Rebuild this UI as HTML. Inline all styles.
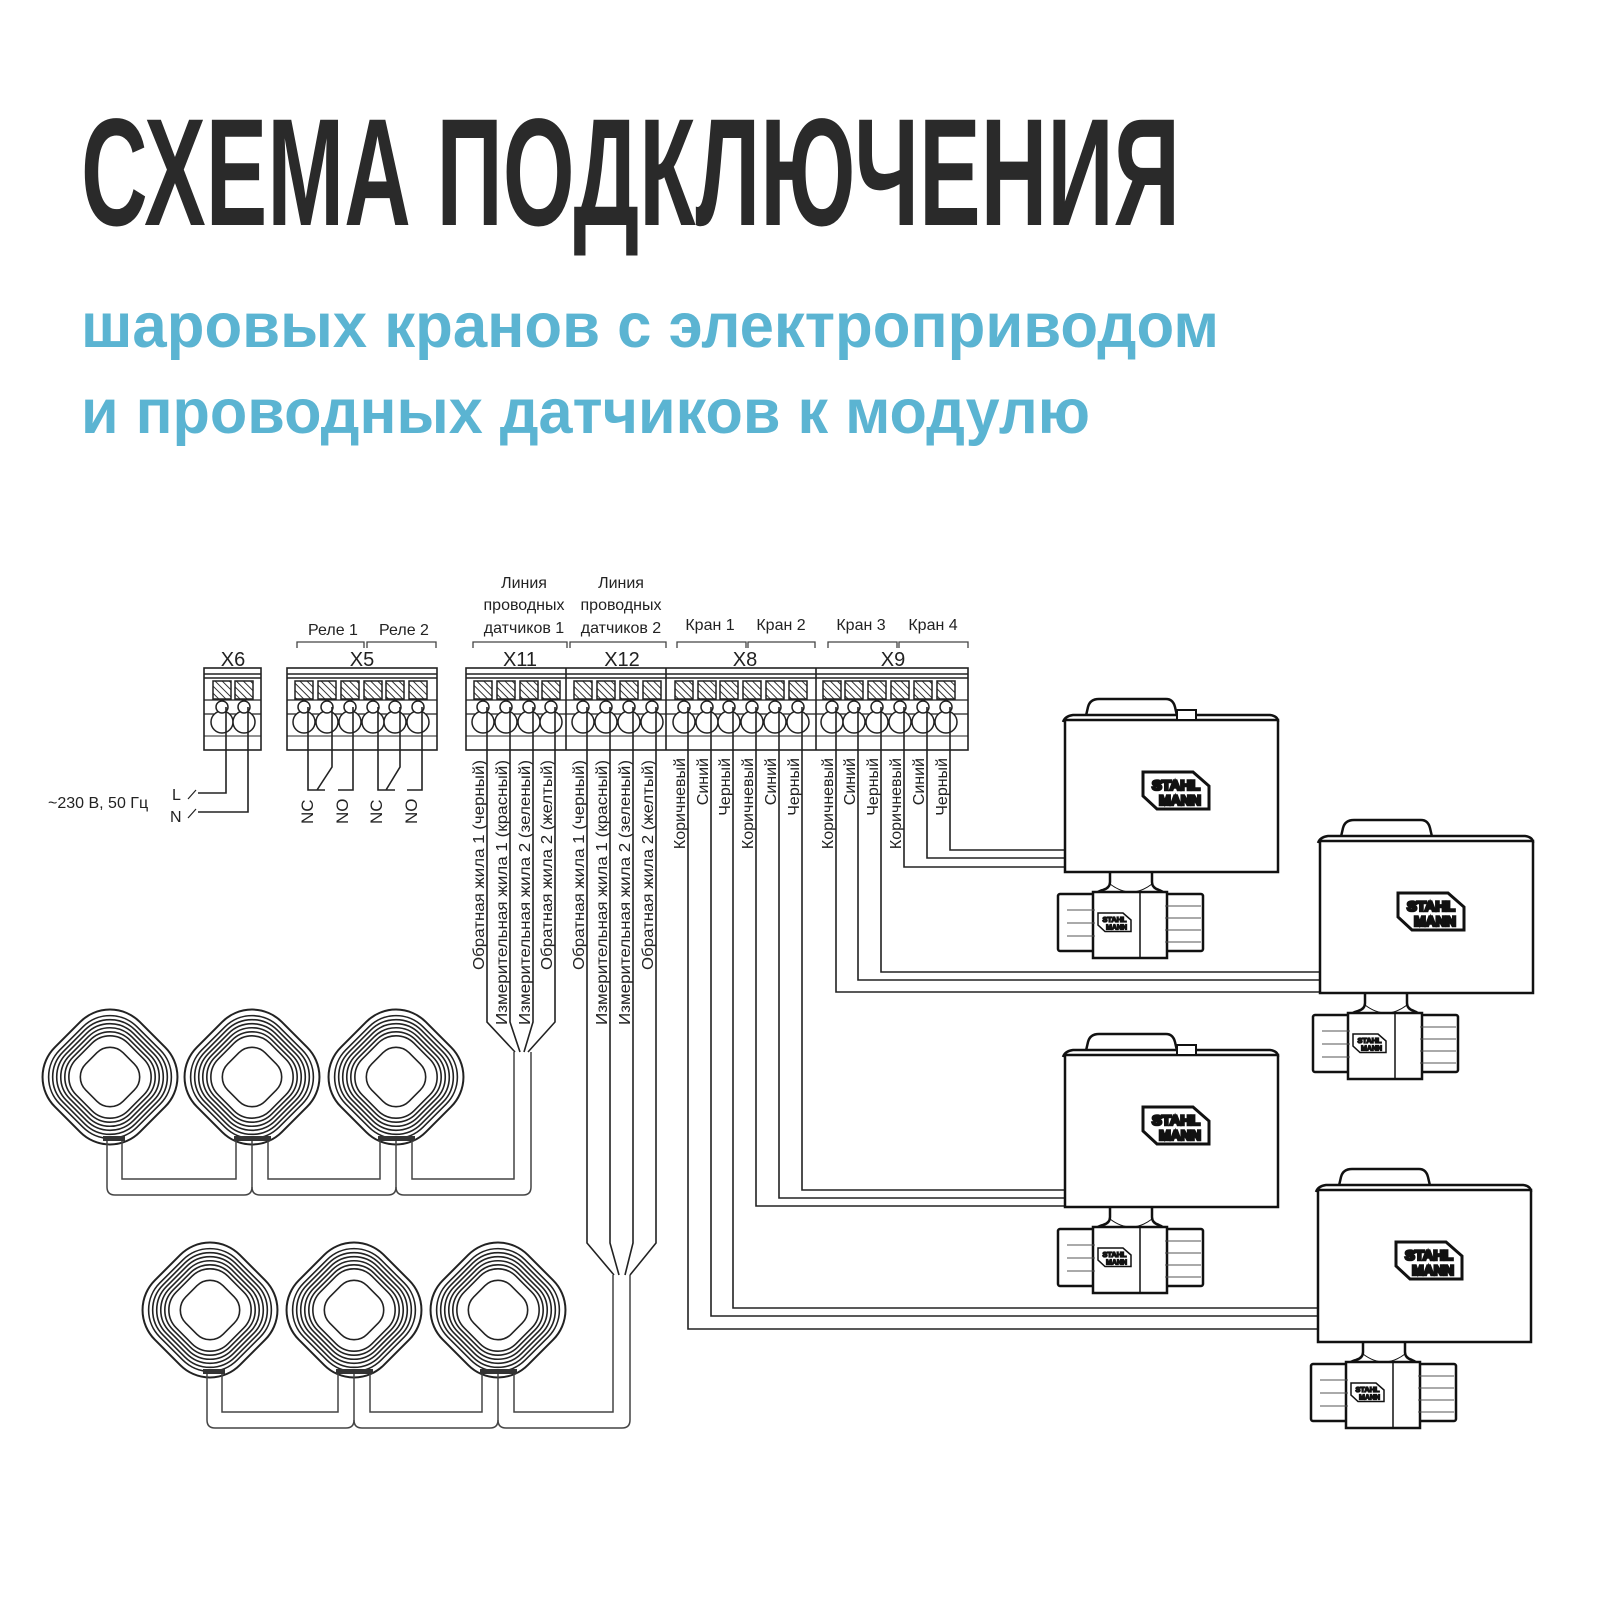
<!DOCTYPE html>
<html><head><meta charset="utf-8"><style>
html,body{margin:0;padding:0;background:#fff;}
svg{display:block;}
text{font-family:"Liberation Sans",sans-serif;}
</style></head><body>
<svg width="1600" height="1600" viewBox="0 0 1600 1600" xmlns="http://www.w3.org/2000/svg">
<defs>
<pattern id="hatch" patternUnits="userSpaceOnUse" width="5" height="5" patternTransform="rotate(-45)">
<rect width="5" height="5" fill="#fff"/><line x1="0" y1="0" x2="0" y2="5" stroke="#333" stroke-width="2"/>
</pattern>
<rect id="sq" x="-60" y="-60" width="120" height="120" rx="42" vector-effect="non-scaling-stroke"/>
<g id="sensor" fill="none" stroke="#222" stroke-width="1.6">
<g transform="rotate(45)">
<use href="#sq" fill="#fff" stroke-width="2"/>
<use href="#sq" transform="scale(0.91)"/>
<use href="#sq" transform="scale(0.85)"/>
<use href="#sq" transform="scale(0.79)"/>
<use href="#sq" transform="scale(0.73)"/>
<use href="#sq" transform="scale(0.67)"/>
<use href="#sq" transform="scale(0.61)"/>
<use href="#sq" transform="scale(0.44)"/>
</g>
</g>
<g id="logo">
<path d="M0,0 H50 L66,14 V37 H14 L0,24 Z" fill="#fff" stroke="#111" stroke-width="3"/>
<text x="33" y="18" font-size="14" font-weight="bold" text-anchor="middle" fill="#111" textLength="48" lengthAdjust="spacingAndGlyphs">STAHL</text>
<text x="37" y="33" font-size="14" font-weight="bold" text-anchor="middle" fill="#111" textLength="42" lengthAdjust="spacingAndGlyphs">MANN</text>
</g>
<g id="valve" fill="#fff" stroke="#111" stroke-width="2.5">
<path d="M20,0 L23,-13 Q25,-21 34,-21 L101,-21 Q108,-21 110,-13 L113,0 Z"/>
<path d="M-2,2 Q0,-4 8,-5 H205 Q213,-4 213,2"/>
<rect x="0" y="0" width="213" height="152"/>
<path d="M45,152 V162 Q45,168 38,170 Q30,172 28,178 M87,152 V162 Q87,168 94,170 Q100,172 102,178"/>
<rect x="-7" y="174" width="40" height="57" rx="2"/>
<rect x="98" y="174" width="40" height="57" rx="2"/>
<path d="M28,172 H102 V238 H28 Z"/>
<line x1="75" y1="172" x2="75" y2="238" stroke-width="1.5"/>
<path d="M2,190 H30 M2,203 H30 M2,216 H30 M100,186 H136 M100,198 H136 M100,210 H136 M100,222 H136" stroke-width="1" stroke="#555"/>
<path d="M45,164 Q66,180 87,164" fill="none" stroke-width="1"/>
<use href="#logo" transform="translate(33,193) scale(0.5)"/>
<use href="#logo" transform="translate(78,52)"/>
</g>
</defs>

<text x="81" y="225" font-size="153" font-weight="bold" fill="#2a2a2a" textLength="1099" lengthAdjust="spacingAndGlyphs">СХЕМА ПОДКЛЮЧЕНИЯ</text>
<text x="81" y="347" font-size="63" font-weight="bold" fill="#5bb4d2" textLength="1138" lengthAdjust="spacingAndGlyphs">шаровых кранов с электроприводом</text>
<text x="81" y="433" font-size="63" font-weight="bold" fill="#5bb4d2" textLength="1009" lengthAdjust="spacingAndGlyphs">и проводных датчиков к модулю</text>

<g font-size="16" fill="#222" text-anchor="middle">
<text x="333" y="635">Реле 1</text><text x="404" y="635">Реле 2</text>
<text x="524" y="588">Линия</text><text x="524" y="610">проводных</text><text x="524" y="633">датчиков 1</text>
<text x="621" y="588">Линия</text><text x="621" y="610">проводных</text><text x="621" y="633">датчиков 2</text>
<text x="710" y="630">Кран 1</text><text x="781" y="630">Кран 2</text>
<text x="861" y="630">Кран 3</text><text x="933" y="630">Кран 4</text>
<text x="233" y="666" font-size="20">X6</text>
<text x="362" y="666" font-size="20">X5</text>
<text x="520" y="666" font-size="20">X11</text>
<text x="622" y="666" font-size="20">X12</text>
<text x="745" y="666" font-size="20">X8</text>
<text x="893" y="666" font-size="20">X9</text>
</g>
<g fill="none" stroke="#444" stroke-width="1.3">
<path d="M297,648 V642 H364 V648 M367,648 V642 H436 V648"/>
<path d="M473,648 V642 H567 V648 M570,648 V642 H666 V648"/>
<path d="M677,648 V642 H746 V648 M748,648 V642 H815 V648"/>
<path d="M828,648 V642 H897 V648 M899,648 V642 H968 V648"/>
</g>

<g stroke="#222" stroke-width="1.6" fill="#fff">
<rect x="204" y="668" width="57" height="82"/>
<rect x="287" y="668" width="150" height="82"/>
<rect x="466" y="668" width="502" height="82"/>
<line x1="566" y1="668" x2="566" y2="750"/><line x1="666" y1="668" x2="666" y2="750"/><line x1="816" y1="668" x2="816" y2="750"/>
<path d="M204,674 H261 M287,674 H437 M466,674 H968 M204,678 H261 M287,678 H437 M466,678 H968" fill="none"/>
<path d="M204,700 H261 M287,700 H437 M466,700 H968 M204,714 H261 M287,714 H437 M466,714 H968" fill="none" stroke-width="1.2"/>
<path d="M204,736 H261 M287,736 H437 M466,736 H968" fill="none" stroke-width="1"/>
</g>
<g stroke="#222" stroke-width="1.5">
<g fill="url(#hatch)">
<rect x="213" y="681" width="18" height="18"/><rect x="235" y="681" width="18" height="18"/>
<rect x="295" y="681" width="18" height="18"/><rect x="318" y="681" width="18" height="18"/><rect x="341" y="681" width="18" height="18"/><rect x="364" y="681" width="18" height="18"/><rect x="386" y="681" width="18" height="18"/><rect x="409" y="681" width="18" height="18"/>
<rect x="474" y="681" width="18" height="18"/><rect x="497" y="681" width="18" height="18"/><rect x="520" y="681" width="18" height="18"/><rect x="542" y="681" width="18" height="18"/>
<rect x="574" y="681" width="18" height="18"/><rect x="597" y="681" width="18" height="18"/><rect x="620" y="681" width="18" height="18"/><rect x="643" y="681" width="18" height="18"/>
<rect x="675" y="681" width="18" height="18"/><rect x="698" y="681" width="18" height="18"/><rect x="720" y="681" width="18" height="18"/><rect x="743" y="681" width="18" height="18"/><rect x="766" y="681" width="18" height="18"/><rect x="789" y="681" width="18" height="18"/>
<rect x="823" y="681" width="18" height="18"/><rect x="845" y="681" width="18" height="18"/><rect x="868" y="681" width="18" height="18"/><rect x="891" y="681" width="18" height="18"/><rect x="914" y="681" width="18" height="18"/><rect x="937" y="681" width="18" height="18"/>
</g>
<g fill="#fff">
<circle cx="222" cy="722" r="11"/><circle cx="244" cy="722" r="11"/>
<circle cx="222" cy="707" r="6"/><circle cx="244" cy="707" r="6"/>
<circle cx="304" cy="722" r="11"/><circle cx="327" cy="722" r="11"/><circle cx="350" cy="722" r="11"/><circle cx="373" cy="722" r="11"/><circle cx="395" cy="722" r="11"/><circle cx="418" cy="722" r="11"/>
<circle cx="304" cy="707" r="6"/><circle cx="327" cy="707" r="6"/><circle cx="350" cy="707" r="6"/><circle cx="373" cy="707" r="6"/><circle cx="395" cy="707" r="6"/><circle cx="418" cy="707" r="6"/>
<circle cx="483" cy="722" r="11"/><circle cx="506" cy="722" r="11"/><circle cx="529" cy="722" r="11"/><circle cx="551" cy="722" r="11"/>
<circle cx="483" cy="707" r="6"/><circle cx="506" cy="707" r="6"/><circle cx="529" cy="707" r="6"/><circle cx="551" cy="707" r="6"/>
<circle cx="583" cy="722" r="11"/><circle cx="606" cy="722" r="11"/><circle cx="629" cy="722" r="11"/><circle cx="652" cy="722" r="11"/>
<circle cx="583" cy="707" r="6"/><circle cx="606" cy="707" r="6"/><circle cx="629" cy="707" r="6"/><circle cx="652" cy="707" r="6"/>
<circle cx="684" cy="722" r="11"/><circle cx="707" cy="722" r="11"/><circle cx="729" cy="722" r="11"/><circle cx="752" cy="722" r="11"/><circle cx="775" cy="722" r="11"/><circle cx="798" cy="722" r="11"/>
<circle cx="684" cy="707" r="6"/><circle cx="707" cy="707" r="6"/><circle cx="729" cy="707" r="6"/><circle cx="752" cy="707" r="6"/><circle cx="775" cy="707" r="6"/><circle cx="798" cy="707" r="6"/>
<circle cx="832" cy="722" r="11"/><circle cx="854" cy="722" r="11"/><circle cx="877" cy="722" r="11"/><circle cx="900" cy="722" r="11"/><circle cx="923" cy="722" r="11"/><circle cx="946" cy="722" r="11"/>
<circle cx="832" cy="707" r="6"/><circle cx="854" cy="707" r="6"/><circle cx="877" cy="707" r="6"/><circle cx="900" cy="707" r="6"/><circle cx="923" cy="707" r="6"/><circle cx="946" cy="707" r="6"/>
</g>
</g>

<g fill="none" stroke="#222" stroke-width="1.6">
<path d="M226,707 V793 H198 M248,707 V812 H198"/>
<path d="M188,799 L196,790 M188,818 L196,809" stroke-width="1.2"/>
<path d="M308,707 V790 H325 M332,707 V767 L317,790 M353,707 V790 H338"/>
<path d="M378,707 V790 H395 M400,707 V767 L386,790 M422,707 V790 H407"/>
<path d="M487,707 V1022 L515,1052 M510,707 V1022 L520,1052 M533,707 V1022 L524,1052 M555,707 V1022 L528,1052"/>
<path d="M587,707 V1243 L614,1275 M610,707 V1243 L619,1275 M633,707 V1243 L625,1275 M656,707 V1243 L630,1275"/>
<path d="M950,707 V850 H1065 M927,707 V858 H1065 M904,707 V867 H1065"/>
<path d="M881,707 V972 H1320 M858,707 V980 H1320 M836,707 V992 H1320"/>
<path d="M802,707 V1190 H1065 M779,707 V1198 H1065 M756,707 V1206 H1065"/>
<path d="M733,707 V1308 H1318 M711,707 V1316 H1318 M688,707 V1329 H1318"/>
</g>

<g font-size="16" fill="#222">
<text x="48" y="808">~230 В, 50 Гц</text>
<text x="172" y="800">L</text>
<text x="170" y="822">N</text>
</g>
<g font-size="17" fill="#222">
<text transform="translate(313,824) rotate(-90)">NC</text>
<text transform="translate(348,824) rotate(-90)">NO</text>
<text transform="translate(382,824) rotate(-90)">NC</text>
<text transform="translate(417,824) rotate(-90)">NO</text>
</g>
<g font-size="16" fill="#222" text-anchor="end">
<text transform="translate(484,760) rotate(-90)" textLength="210" lengthAdjust="spacingAndGlyphs">Обратная жила 1 (черный)</text>
<text transform="translate(507,760) rotate(-90)" textLength="265" lengthAdjust="spacingAndGlyphs">Измерительная жила 1 (красный)</text>
<text transform="translate(530,760) rotate(-90)" textLength="265" lengthAdjust="spacingAndGlyphs">Измерительная жила 2 (зеленый)</text>
<text transform="translate(552,760) rotate(-90)" textLength="210" lengthAdjust="spacingAndGlyphs">Обратная жила 2 (желтый)</text>
<text transform="translate(584,760) rotate(-90)" textLength="210" lengthAdjust="spacingAndGlyphs">Обратная жила 1 (черный)</text>
<text transform="translate(607,760) rotate(-90)" textLength="265" lengthAdjust="spacingAndGlyphs">Измерительная жила 1 (красный)</text>
<text transform="translate(630,760) rotate(-90)" textLength="265" lengthAdjust="spacingAndGlyphs">Измерительная жила 2 (зеленый)</text>
<text transform="translate(653,760) rotate(-90)" textLength="210" lengthAdjust="spacingAndGlyphs">Обратная жила 2 (желтый)</text>
<text transform="translate(685,758) rotate(-90)">Коричневый</text>
<text transform="translate(708,758) rotate(-90)">Синий</text>
<text transform="translate(730,758) rotate(-90)">Черный</text>
<text transform="translate(753,758) rotate(-90)">Коричневый</text>
<text transform="translate(776,758) rotate(-90)">Синий</text>
<text transform="translate(799,758) rotate(-90)">Черный</text>
<text transform="translate(833,758) rotate(-90)">Коричневый</text>
<text transform="translate(855,758) rotate(-90)">Синий</text>
<text transform="translate(878,758) rotate(-90)">Черный</text>
<text transform="translate(901,758) rotate(-90)">Коричневый</text>
<text transform="translate(924,758) rotate(-90)">Синий</text>
<text transform="translate(947,758) rotate(-90)">Черный</text>
</g>

<use href="#sensor" transform="translate(110,1077)"/>
<use href="#sensor" transform="translate(252,1077)"/>
<use href="#sensor" transform="translate(396,1077)"/>
<use href="#sensor" transform="translate(210,1310)"/>
<use href="#sensor" transform="translate(354,1310)"/>
<use href="#sensor" transform="translate(498,1310)"/>

<g fill="none" stroke="#444" stroke-width="1.5">
<path d="M122,1140 V1179 H236 V1140 M107,1140 V1187 Q107,1195 115,1195 H244 Q252,1195 252,1187 V1140"/>
<path d="M268,1140 V1179 H380 V1140 M252,1187 Q252,1195 260,1195 H388 Q396,1195 396,1187 V1140"/>
<path d="M412,1140 V1179 H514 V1052 M396,1187 Q396,1195 404,1195 H523 Q531,1195 531,1187 V1052"/>
<path d="M222,1373 V1412 H338 V1373 M207,1373 V1420 Q207,1428 215,1428 H346 Q354,1428 354,1420 V1373"/>
<path d="M370,1373 V1412 H482 V1373 M354,1420 Q354,1428 362,1428 H490 Q498,1428 498,1420 V1373"/>
<path d="M514,1373 V1412 H613 V1275 M498,1420 Q498,1428 506,1428 H622 Q630,1428 630,1420 V1275"/>
</g>
<g fill="#333">
<rect x="103" y="1136" width="22" height="5"/><rect x="234" y="1136" width="37" height="5"/><rect x="378" y="1136" width="37" height="5"/>
<rect x="203" y="1369" width="22" height="5"/><rect x="336" y="1369" width="37" height="5"/><rect x="480" y="1369" width="37" height="5"/>
</g>

<use href="#valve" transform="translate(1065,720)"/>
<rect x="1177" y="710" width="19" height="10" fill="#fff" stroke="#111" stroke-width="2"/>
<use href="#valve" transform="translate(1320,841)"/>
<use href="#valve" transform="translate(1065,1055)"/>
<rect x="1177" y="1045" width="19" height="10" fill="#fff" stroke="#111" stroke-width="2"/>
<use href="#valve" transform="translate(1318,1190)"/>
</svg>
</body></html>
